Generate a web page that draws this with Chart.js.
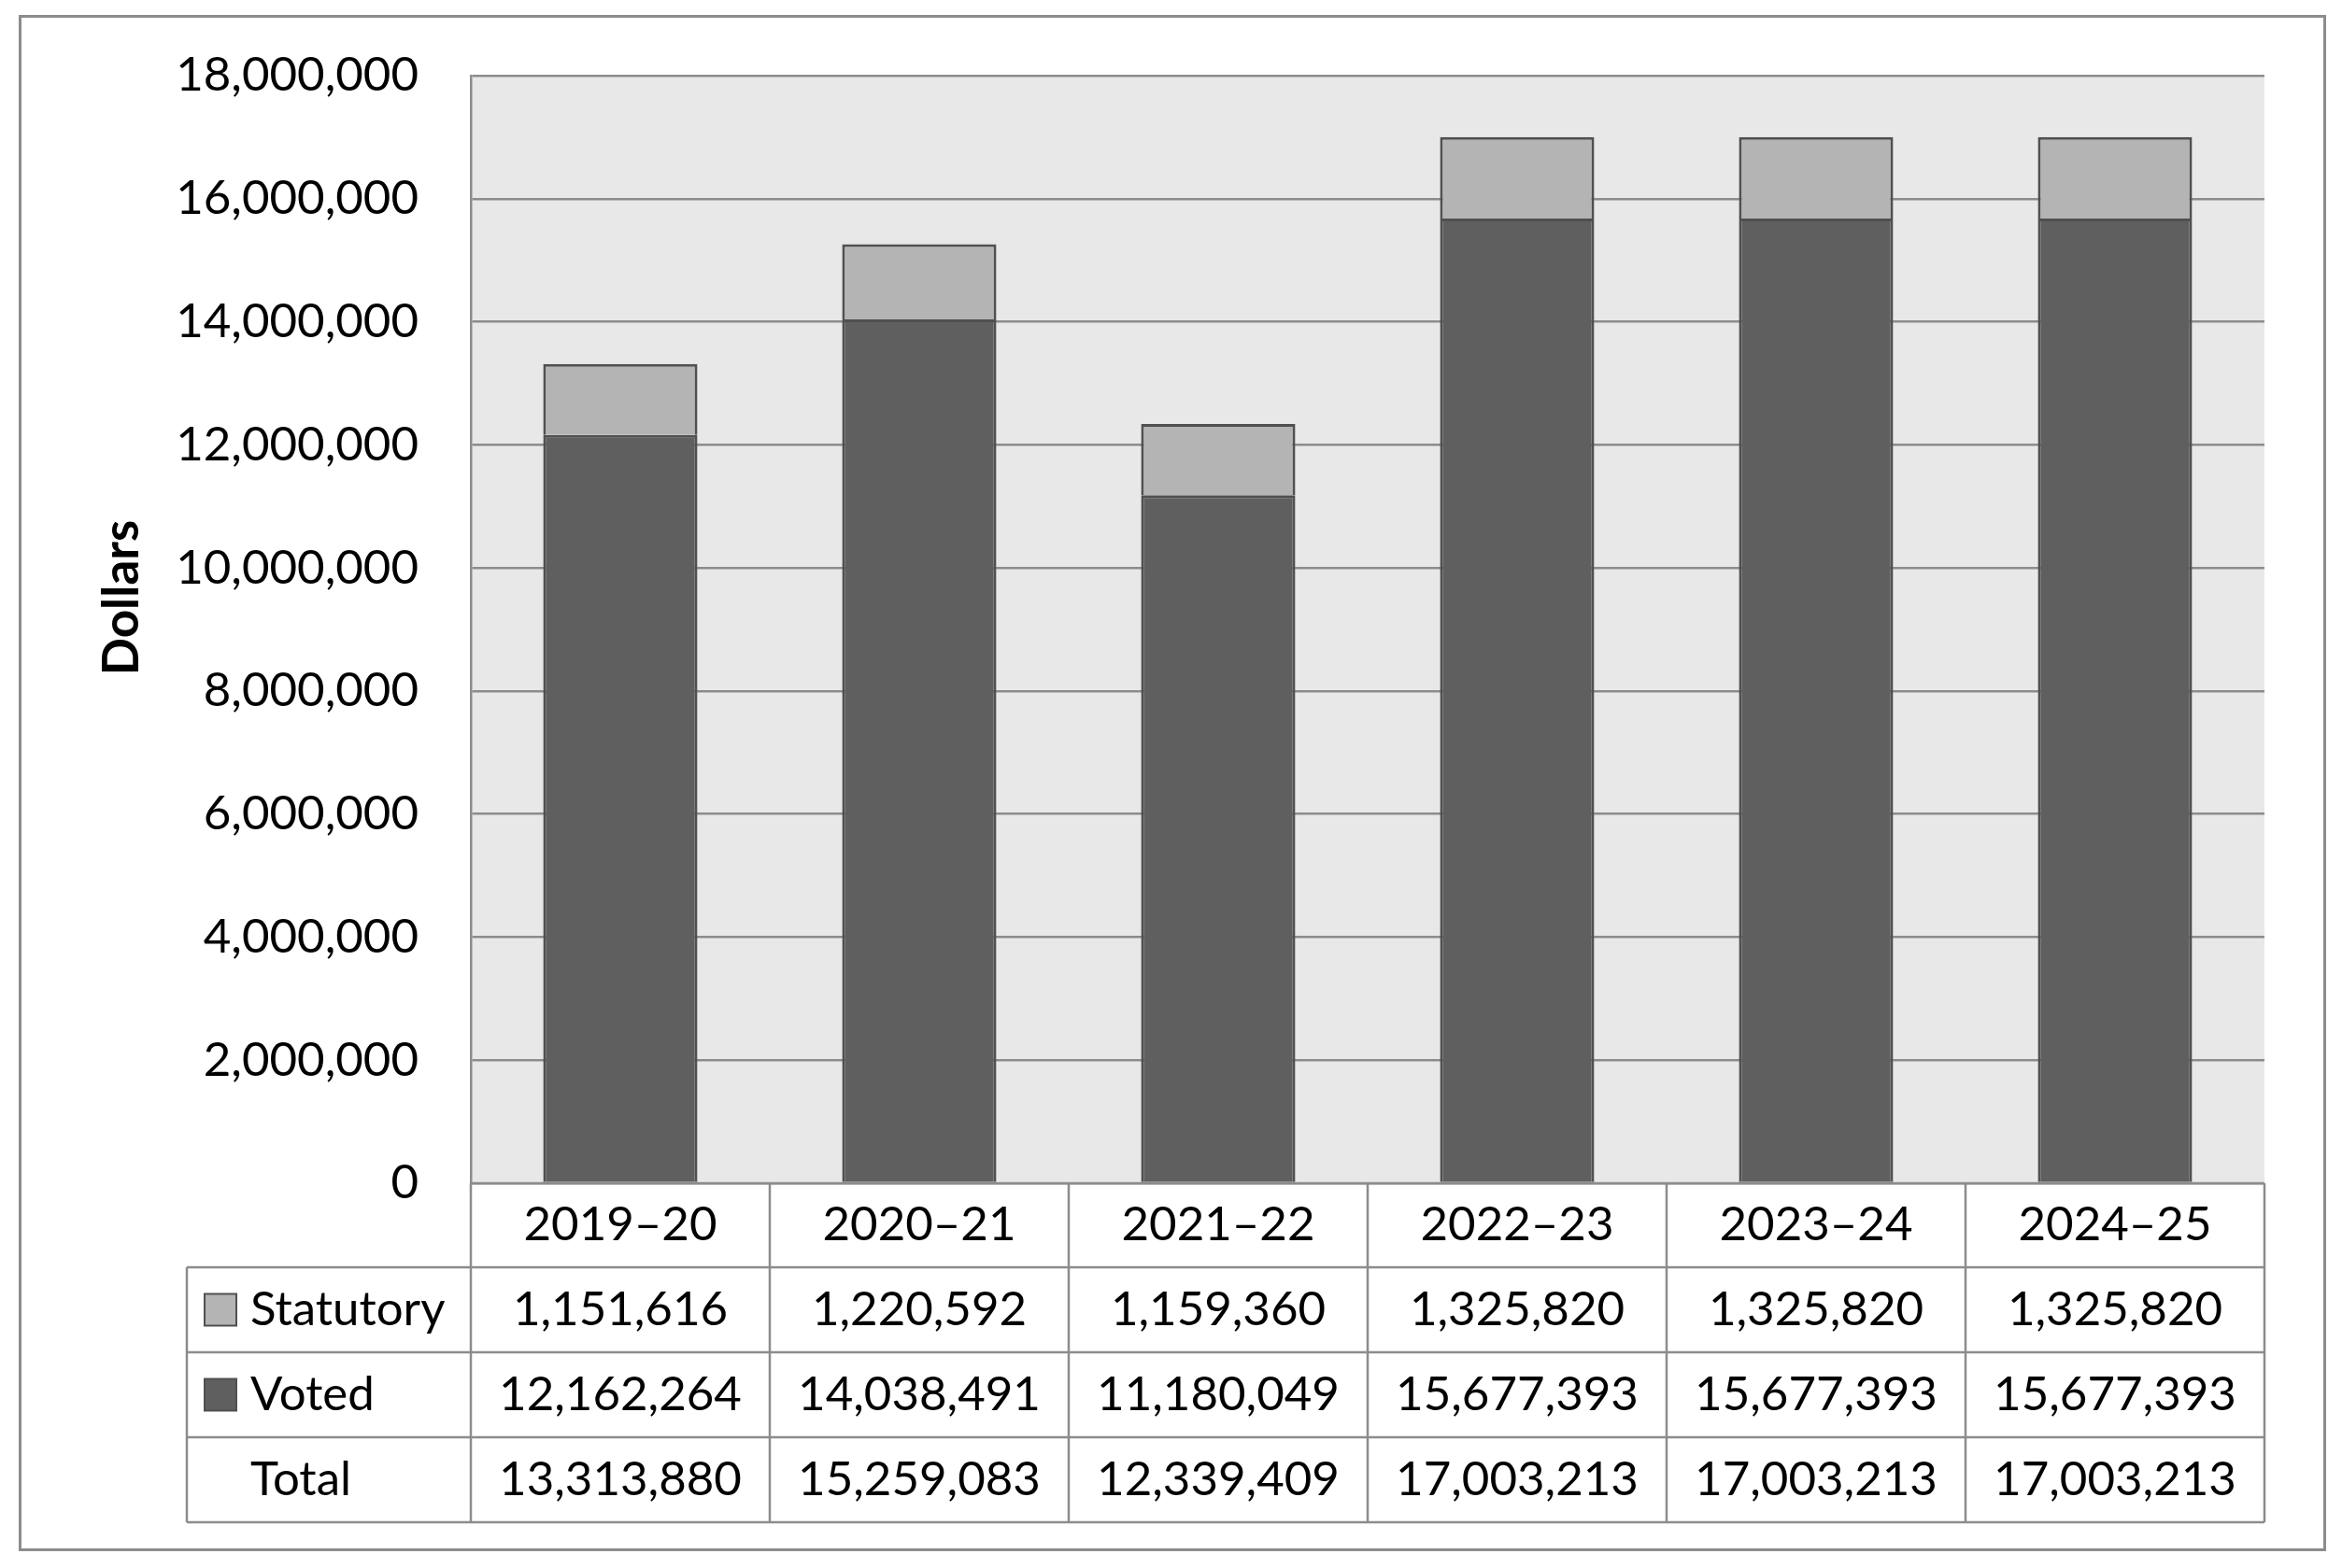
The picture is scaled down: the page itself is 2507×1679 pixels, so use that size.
<!DOCTYPE html>
<html>
<head>
<meta charset="utf-8">
<script src="https://cdn.jsdelivr.net/npm/chart.js@4.4.1/dist/chart.umd.min.js"></script>
<style>
  body { margin: 0; background: #ffffff; }
  #wrap { width: 2507px; height: 1679px; }
</style>
</head>
<body>
<div id="wrap"><canvas id="spendingChart" width="2507" height="1679"></canvas></div>
<script>
// Data
const years = ['2019–20', '2020–21', '2021–22', '2022–23', '2023–24', '2024–25'];
const statutory = [1151616, 1220592, 1159360, 1325820, 1325820, 1325820];
const voted = [12162264, 14038491, 11180049, 15677393, 15677393, 15677393];
const totals = [13313880, 15259083, 12339409, 17003213, 17003213, 17003213];
const yTicks = [0, 2000000, 4000000, 6000000, 8000000, 10000000, 12000000, 14000000, 16000000, 18000000];

const STAT_COLOR = '#b4b4b4';
const VOTED_COLOR = '#5f5f5f';
const EDGE = '#505050';
const LINE = '#8c8c8c';
const FONT = 'Lato, "Open Sans", sans-serif';

// Function to add thousands separators
function fmt(n) {
    return String(n).replace(/\B(?=(\d{3})+(?!\d))/g, ',');
}

// Plot background and outer frame
const backdrop = {
    id: 'backdrop',
    beforeDraw(chart) {
        const ctx = chart.ctx;
        const a = chart.chartArea;
        ctx.save();
        ctx.fillStyle = '#ffffff';
        ctx.fillRect(0, 0, chart.width, chart.height);
        ctx.fillStyle = '#e8e8e8';
        ctx.fillRect(a.left, a.top, a.right - a.left, a.bottom - a.top);
        ctx.strokeStyle = LINE;
        ctx.lineWidth = 3;
        ctx.strokeRect(21.5, 17.5, 2467, 1642);
        ctx.restore();
    }
};

// Data table under the bars, columns follow the x scale
const dataTable = {
    id: 'dataTable',
    afterDraw(chart) {
        const ctx = chart.ctx;
        const x = chart.scales.x;
        const a = chart.chartArea;
        const labelLeft = 200;
        const rows = [a.bottom, 1357, 1448, 1539, 1630];

        const edges = [a.left];
        for (let i = 0; i < years.length - 1; i++) {
            edges.push((x.getPixelForValue(i) + x.getPixelForValue(i + 1)) / 2);
        }
        edges.push(a.right);

        ctx.save();
        ctx.strokeStyle = LINE;
        ctx.lineWidth = 2.5;
        ctx.beginPath();
        // vertical lines
        edges.forEach(e => { ctx.moveTo(e, rows[0]); ctx.lineTo(e, rows[4]); });
        ctx.moveTo(labelLeft, rows[1]); ctx.lineTo(labelLeft, rows[4]);
        // horizontal lines
        ctx.moveTo(a.left, rows[0]); ctx.lineTo(a.right, rows[0]);
        for (let r = 1; r < rows.length; r++) {
            ctx.moveTo(labelLeft, rows[r]); ctx.lineTo(a.right, rows[r]);
        }
        ctx.stroke();

        ctx.fillStyle = '#000000';
        ctx.font = '51px ' + FONT;
        ctx.textAlign = 'center';
        ctx.textBaseline = 'middle';
        const lines = [years, statutory.map(fmt), voted.map(fmt), totals.map(fmt)];
        lines.forEach((vals, r) => {
            const cy = (rows[r] + rows[r + 1]) / 2;
            vals.forEach((v, i) => ctx.fillText(v, x.getPixelForValue(i), cy));
        });

        // row labels with legend keys
        const names = ['Statutory', 'Voted', 'Total'];
        const keys = [STAT_COLOR, VOTED_COLOR, null];
        ctx.textAlign = 'left';
        names.forEach((name, r) => {
            const cy = (rows[r + 1] + rows[r + 2]) / 2;
            if (keys[r]) {
                ctx.fillStyle = keys[r];
                ctx.fillRect(219, cy - 17, 34, 34);
                ctx.strokeStyle = EDGE;
                ctx.lineWidth = 2;
                ctx.strokeRect(219, cy - 17, 34, 34);
            }
            ctx.fillStyle = '#000000';
            ctx.fillText(name, 268, cy);
        });

        // axis title
        ctx.translate(131, 640);
        ctx.rotate(-Math.PI / 2);
        ctx.textAlign = 'center';
        ctx.font = 'bold 53px ' + FONT;
        ctx.fillText('Dollars', 0, 0);
        ctx.restore();
    }
};

new Chart(document.getElementById('spendingChart'), {
    type: 'bar',
    data: {
        labels: years,
        datasets: [
            {
                label: 'Voted',
                data: voted,
                backgroundColor: VOTED_COLOR,
                borderColor: EDGE,
                borderWidth: 3
            },
            {
                label: 'Statutory',
                data: statutory,
                backgroundColor: STAT_COLOR,
                borderColor: EDGE,
                borderWidth: 3
            }
        ]
    },
    options: {
        responsive: false,
        animation: false,
        devicePixelRatio: 1,
        barPercentage: 0.516,
        categoryPercentage: 1.0,
        layout: { padding: { left: 0, right: 83, top: 81, bottom: 412 } },
        plugins: {
            legend: { display: false },
            tooltip: { enabled: false },
            title: { display: false }
        },
        scales: {
            x: {
                stacked: true,
                display: false
            },
            y: {
                stacked: true,
                min: 0,
                max: 18000000,
                afterFit: s => {
                    s.width = 504;
                    s.paddingTop = 0;
                    s.paddingBottom = 0;
                },
                afterBuildTicks: s => { s.ticks = yTicks.map(v => ({ value: v })); },
                ticks: {
                    padding: 56,
                    color: '#000000',
                    font: { family: FONT, size: 51 },
                    callback: v => fmt(v)
                },
                grid: { color: LINE, lineWidth: 2.5, drawTicks: false },
                border: { display: true, color: LINE, width: 2.5 }
            }
        }
    },
    plugins: [backdrop, dataTable]
});
</script>
</body>
</html>
